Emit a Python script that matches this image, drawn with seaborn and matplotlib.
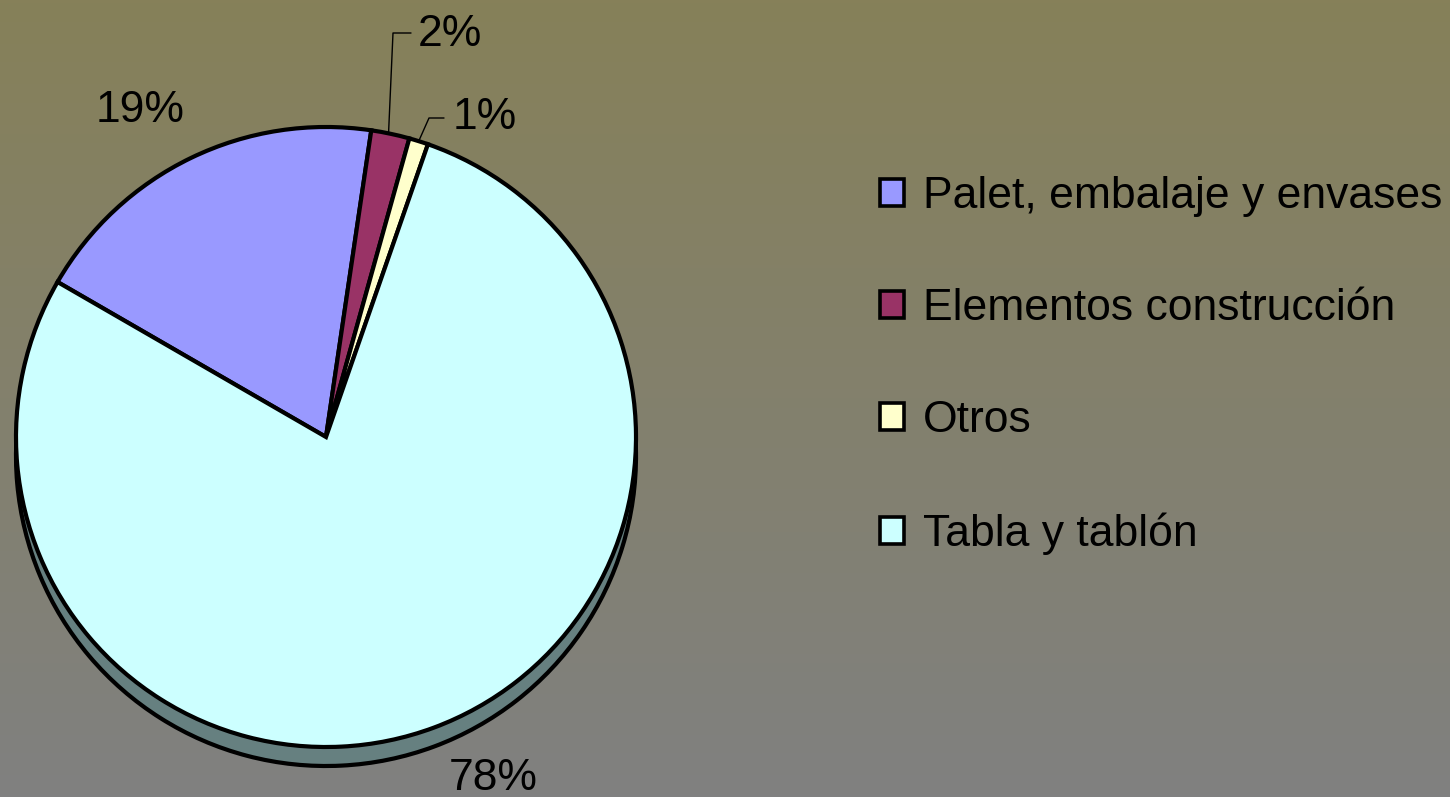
import numpy as np
import matplotlib
matplotlib.use("Agg")
import matplotlib.pyplot as plt
import seaborn as sns

categories = ["Palet, embalaje y envases", "Elementos construcción", "Otros", "Tabla y tablón"]
values = [19, 2, 1, 78]
pct_labels = ["19%", "2%", "1%", "78%"]
colors = ["#9999FF", "#993366", "#FFFFCC", "#CCFFFF"]

sns.set_style("white")
plt.rcParams['font.family'] = ['Liberation Sans', 'DejaVu Sans']
plt.rcParams['text.color'] = 'black'

W, H = 1450, 797
fig = plt.figure(figsize=(W / 100, H / 100), dpi=100)

# gradient background
bg = fig.add_axes([0, 0, 1, 1], zorder=0)
top = np.array([134, 128, 89]) / 255
bot = np.array([128, 128, 128]) / 255
t = np.linspace(0, 1, 256)[:, None]
grad = (top[None, :] * (1 - t) + bot[None, :] * t)[:, None, :]
bg.imshow(grad, aspect="auto", extent=[0, 1, 0, 1])
bg.axis("off")

ax = fig.add_axes([0, 0, 1, 1], zorder=1)

cx, cy, R = 326, H - 437, 310
depth = 19
lw = 3.0
start = 150

# side / shadow of the 3-D pie
ax.pie(values, colors=["#668080"] * len(values), startangle=start, counterclock=False,
       center=(cx, cy - depth), radius=R,
       wedgeprops=dict(edgecolor="black", linewidth=lw), frame=True)
wedges, _ = ax.pie(values, colors=colors, startangle=start, counterclock=False,
                   center=(cx, cy), radius=R,
                   wedgeprops=dict(edgecolor="black", linewidth=lw), frame=True)
ax.set_xlim(0, W)
ax.set_ylim(0, H)
ax.axis("off")

fs = 32
# label positions (pixels from top-left) for each slice
label_pos = [(140, 110), (450, 34), (485, 117), (493, 778)]
for w, lab, (lx, ly) in zip(wedges, pct_labels, label_pos):
    ax.text(lx, H - ly, lab, fontsize=fs, ha="center", va="center", color="black")

# leader lines for small slices
def edge_point(w, frac=0.5):
    ang = np.deg2rad(w.theta1 + (w.theta2 - w.theta1) * frac)
    return cx + R * np.cos(ang), cy + R * np.sin(ang)

ex, ey = edge_point(wedges[1], 0.55)
ax.plot([ex, 393, 411], [ey, H - 33, H - 33], color="black", lw=1.0, zorder=5)
ex, ey = edge_point(wedges[2], 0.5)
ax.plot([ex, 429, 444], [ey, H - 118, H - 118], color="black", lw=1.0, zorder=5)

leg = fig.legend(wedges, categories, loc="upper left",
                 bbox_to_anchor=(880 / W, 1 - 176 / H),
                 frameon=False, fontsize=fs, handlelength=0.55, handleheight=0.55,
                 handletextpad=0.42, labelspacing=1.6, borderpad=0, borderaxespad=0,
                 labelcolor="black")
for h in leg.legend_handles:
    h.set_linewidth(2.6)
    h.set_edgecolor("black")

fig.savefig("out.png", dpi=100)
